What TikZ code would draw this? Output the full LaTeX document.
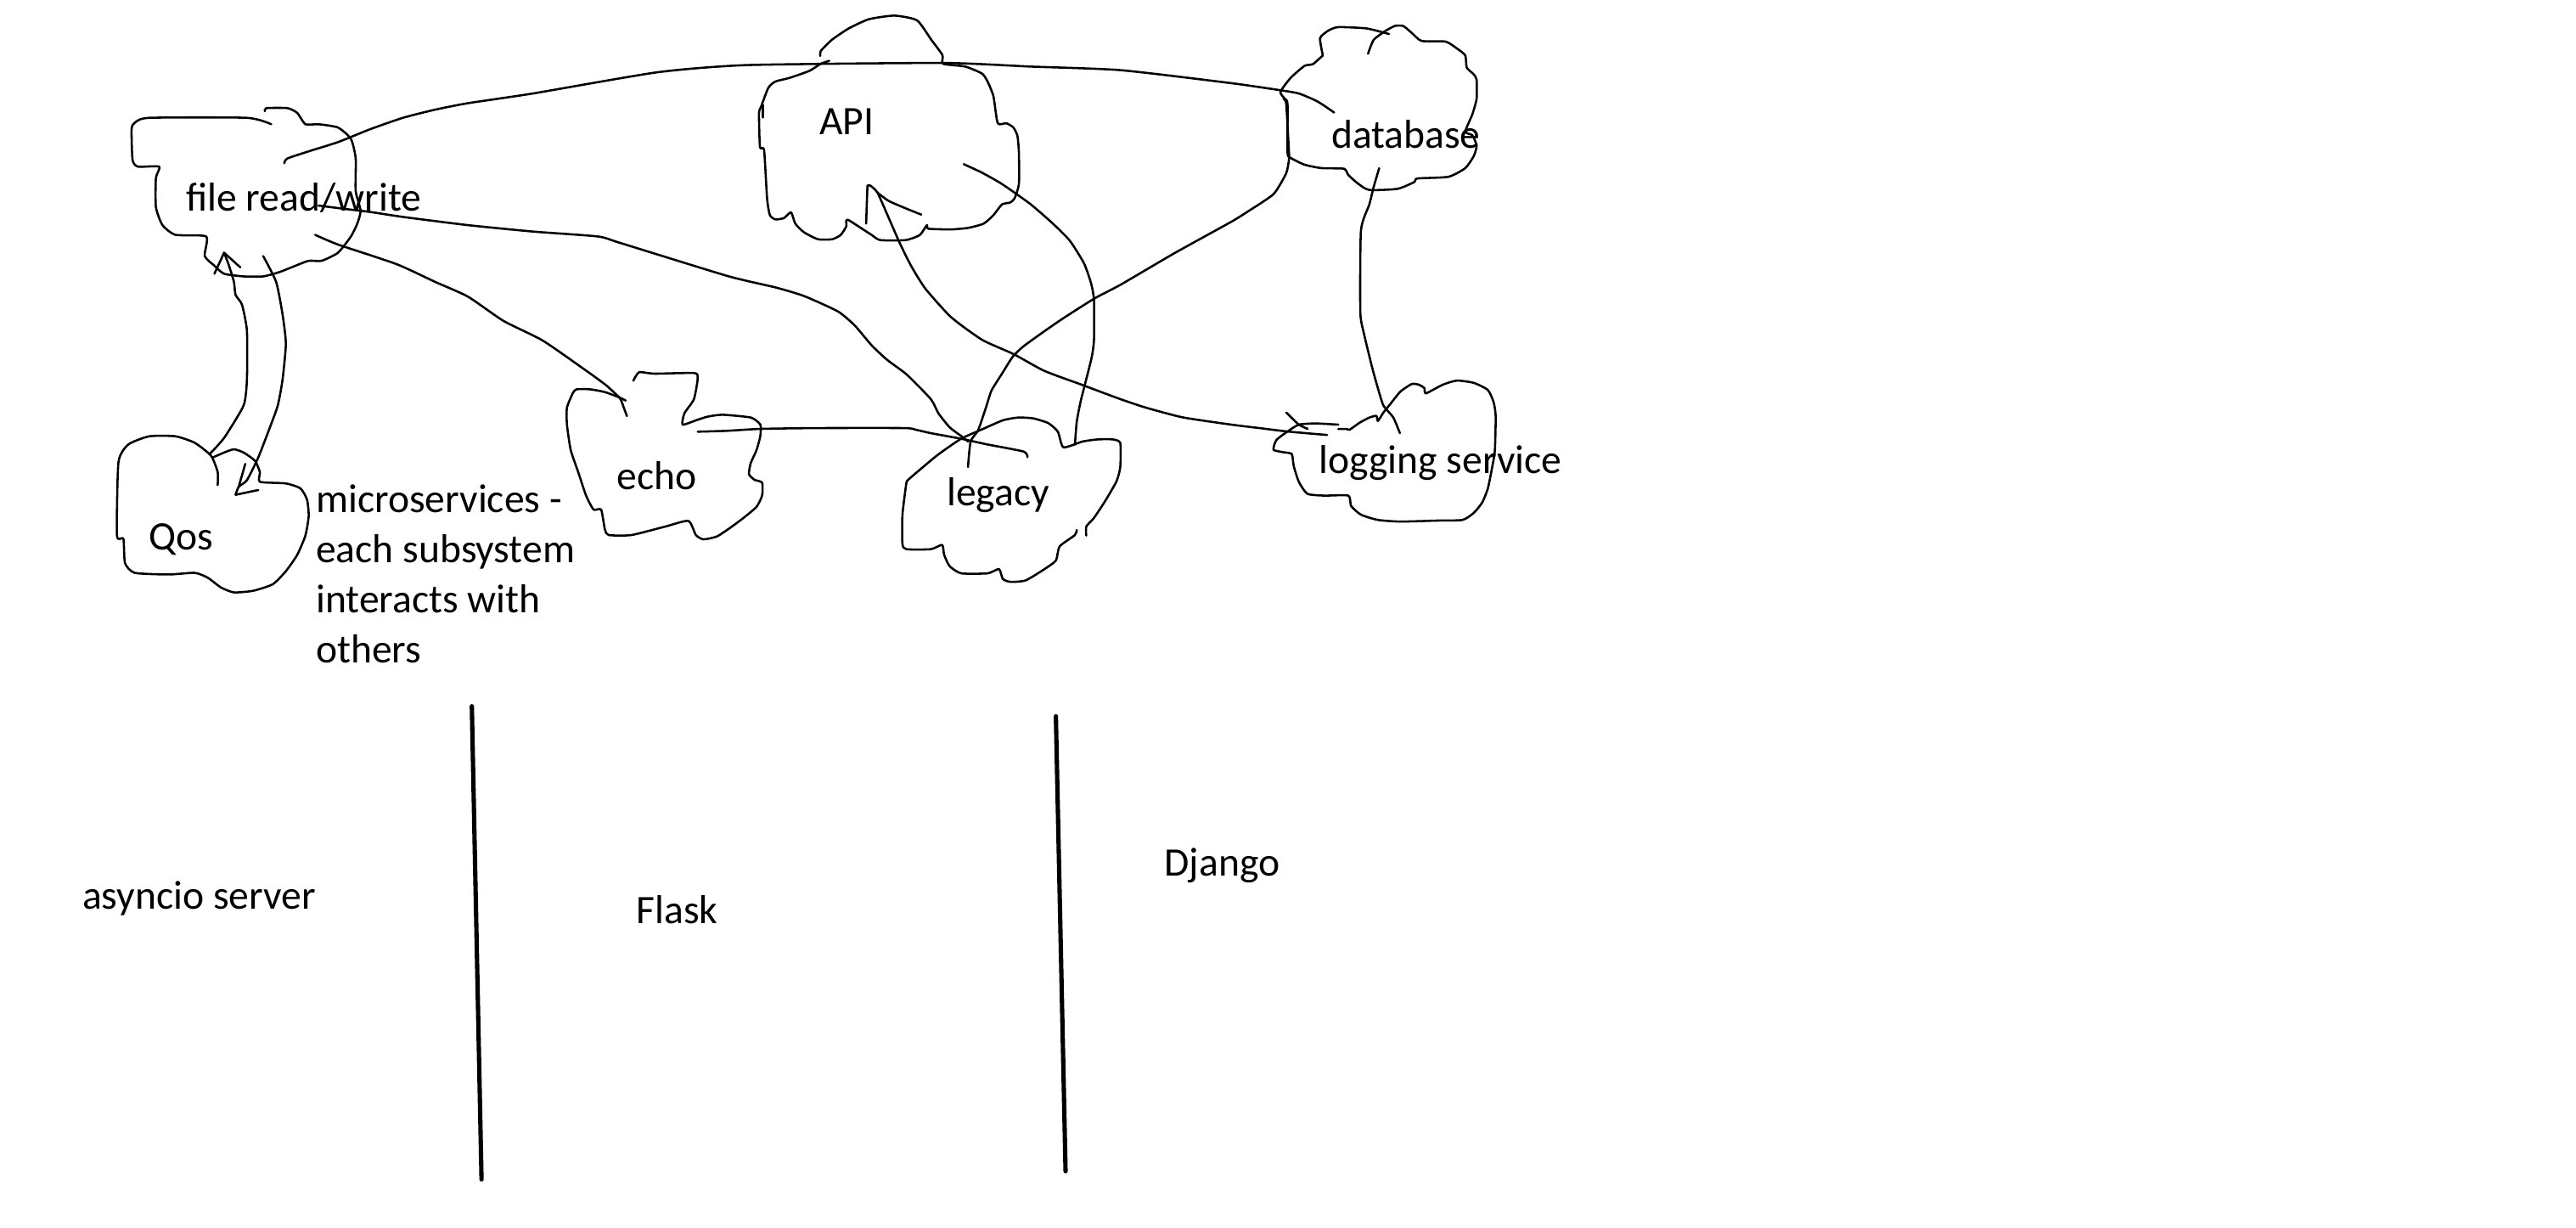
\documentclass[tikz,border=0pt]{standalone}
\usepackage{fontspec}
\setmainfont{Carlito}
\newcommand\lblfont{\fontsize{14}{17}\selectfont}
\begin{document}
\begin{tikzpicture}[x=0.2mm,y=-0.2mm,
  sketch/.style={line width=0.75pt,line cap=round,line join=round},
  divider/.style={line width=1.5pt,line cap=round},
  lbl/.style={anchor=base west,inner sep=0pt,font=\lblfont},
  sm/.style={smooth,tension=0.35}]
\useasboundingbox (0,0) rectangle (1568,747);
\fill[white] (0,0) rectangle (1568,747);

% ---------- labels ----------
\node[lbl] (file) at (113,128.5) {file read/write};
\node[lbl] (api) at (498.5,81.8) {API};
\node[lbl] (db) at (810,90.3) {database};
\node[lbl] (qos) at (90.5,334.8) {Qos};
\node[lbl] (echo) at (375,298) {echo};
\node[lbl] (legacy) at (576,307.5) {legacy};
\node[lbl] (logging) at (802.5,287.9) {logging service};
\node[lbl] (note1) at (192,312) {microservices -};
\node[lbl] (note2) at (192,342.5) {each subsystem};
\node[lbl] (note3) at (192,373) {interacts with};
\node[lbl] (note4) at (192,403.5) {others};
\node[lbl] (asyncio) at (49.8,553.4) {asyncio server};
\node[lbl] (flask) at (387,562.1) {Flask};
\node[lbl] (django) at (708.5,532.9) {Django};

% ---------- clouds ----------
% file read/write
\draw[sketch] plot[sm] coordinates {(165.1,75.6)(150.3,71.7)(90.9,71.7)(82.0,74.7)(80.1,78.6)(80.7,97.4)(84.0,101.4)(96.9,101.4)(94.9,108.3)(94.9,126.1)(98.9,137.0)(106.8,142.9)(125.5,143.9)(124.6,155.8)(130.5,161.7)(136.4,166.6)(148.3,168.2)(160.2,168.2)(170.0,165.6)(179.9,161.7)(187.9,158.7)(195.8,158.7)(205.7,153.8)(213.6,143.9)(217.5,136.0)(219.5,128.1)(216.5,116.2)(216.5,96.4)(213.6,84.5)(205.7,77.6)(193.8,75.6)(185.9,75.6)(180.9,68.7)(175.0,65.8)(162.1,65.8)(161.2,67.7)};
% Qos
\draw[sketch] plot[sm] coordinates {(132.5,295.2)(132.5,287.3)(128.5,277.4)(118.6,269.5)(106.8,265.5)(90.9,265.5)(78.1,270.5)(72.1,281.3)(71.2,325.9)(75.1,327.8)(76.1,342.7)(82.0,348.6)(102.8,349.6)(118.6,348.6)(126.5,351.6)(134.5,357.5)(142.4,360.5)(154.2,359.5)(166.1,355.5)(174.0,347.6)(180.9,337.7)(185.9,325.9)(187.9,314.0)(186.9,304.1)(182.9,297.2)(174.0,294.2)(158.2,293.2)(158.2,287.3)(155.2,280.4)(148.3,275.4)(142.4,273.4)(136.4,275.4)(129.5,278.4)};
% API
\draw[sketch] plot[sm] coordinates {(499.3,34.1)(499.6,31)(506.5,24.1)(516.8,17.2)(528.9,11.7)(544.4,9.5)(558.2,12.4)(566.8,24.1)(573.7,33.6)(574.0,38.8)(587.5,40.5)(597.8,44.8)(601.3,50)(604.7,58.6)(607.3,75)(612.5,75)(616.8,77.5)(619.3,82.7)(620.2,93)(620.2,112)(617.6,120.6)(615,123.2)(609.9,124.4)(604.7,130.9)(598.7,136.1)(589.2,138.7)(578.9,139.6)(565.1,139.2)(564.2,137)(559.9,143)(551.3,146.1)(535.8,146.1)(530.6,143)(516.8,134.1)(515.1,134.4)(515.1,137.8)(511.7,143)(506.5,145.6)(497.9,145.6)(489.3,141.3)(484.1,136.1)(481.5,129.2)(477.2,132.7)(472,133.5)(468.6,130.9)(466.9,120.6)(465.1,91.3)(462.6,89.6)(462,68.9)(463.4,64.6)(467.7,53.4)(472,49.6)(480.6,47.4)(492.7,43.1)(499.6,38.8)(504.8,37)};
\draw[sketch] (464.3,63.8) -- (464.3,71.5);
% database
\draw[sketch] plot[sm] coordinates {(805.2,33.7)(803.5,23.2)(808.6,18.6)(814.6,16.5)(831.8,17.3)(845.5,20.7)};
\draw[sketch] plot[sm] coordinates {(832.7,32.7)(836.1,24.3)(843,19)(849,15.8)(854.1,15.8)(859.3,20)(865.3,24.9)(879.9,25.3)(886.8,29.5)(891.9,33.7)(892.8,41.1)(897.1,45.3)(898.8,48.5)(898.8,60.1)(896.2,69.6)(891.9,80.1)(896.2,82.3)(898.8,88.6)(897.1,94.9)(891.9,102.3)(881.6,107.6)(862.7,108.6)(861,110.7)(850.7,114.9)(833.5,115.6)(826.7,111.8)(820.7,106.5)(818.1,102.7)(804.3,102.3)(794,100.2)(785.5,96)(783.7,92.8)(783.7,63.3)(782,60.1)(779.4,55.9)(785.5,47.5)(794,40.1)(799.2,39)(805.2,33.7)};
% echo
\draw[sketch] plot[sm] coordinates {(385.5,231.7)(389,226.5)(398.2,227.4)(422.4,227)(424.7,230)(422.4,242.9)(416.6,251.5)(415.5,258.4)(423.6,255.8)(430.5,253.6)(439.7,252.4)(457,254.1)(462.8,258.4)(462.8,265.3)(460.5,273.9)(457,281.7)(455.9,288.6)(459.3,292)(463.9,293.7)(463.9,301.5)(460.5,308.4)(452.4,315.3)(444.3,321.3)(436.3,326.5)(428.2,328.2)(423.6,325.6)(419,317)(405.1,320.4)(384.3,325.6)(370.5,325.6)(368.2,322.2)(365.9,310.1)(361.3,310.1)(356.7,301.5)(352.1,287.7)(347.4,273.9)(345.1,258.4)(345.1,248.1)(348.6,239.4)(350.9,236.9)(359,236.9)(368.2,238.6)(377.4,242)(380.9,243.8)};
% legacy
\draw[sketch] plot[sm] coordinates {(655.4,322.5)(654.3,325.6)(645,332.5)(642.7,341.1)(635.8,346.3)(624.3,353.2)(615,354.1)(610.4,352.3)(608.1,346.3)(601.2,348.9)(585.1,348.9)(578.1,344.6)(574.7,337.7)(573.5,331.6)(566.6,334.2)(551.6,334.2)(549.3,330.8)(549.3,313.5)(551.6,294.6)(552.8,292)(560.8,285.1)(571.2,276.5)(585,267)(596.6,261.8)(610.4,255.8)(619.7,254.1)(628.9,254.6)(638.1,257.5)(643.9,262.7)(647.3,272.2)(658.9,268.7)(668.1,267.4)(677.3,267.4)(681.9,269.6)(681.9,284.2)(679.6,292.9)(672.7,304.9)(665.8,315.3)(661.2,320.4)(661.2,325.9)};
% logging service
\draw[sketch] plot[sm] coordinates {(814.6,258.4)(800.9,257.7)(790.6,258.4)(783.7,262.6)(776.9,267.8)(775.2,273.7)(781.2,275.2)(786.3,276.3)(787.5,283.7)(790.6,293.2)(795.8,300.5)(806.1,301.6)(820.7,301.6)(822.4,307.9)(828.4,313.2)(838.7,316.4)(852.4,317.4)(874.7,316.8)(890.2,316.4)(897.1,312.1)(902.2,305.8)(905.6,297.4)(908.2,284.7)(909.9,274.2)(910.4,253.1)(909.1,244.6)(905.6,237.3)(897.1,233)(886.8,231.6)(878.2,234.1)(867.9,239.4)(867,236.2)(863.6,234.1)(859.3,233.7)(852.4,238.3)(846.4,245.7)(842.1,251)(838.7,256.2)(837.8,253.1)(833.5,254.1)(827.5,257.3)(821.5,261.5)(819.8,261.1)(814.6,261.1)};

% ---------- connector end points ----------
\coordinate (fileDbS) at (173,99.4);
\coordinate (fileDbE) at (812.1,68.5);
\coordinate (fileLegS) at (193.8,125.1);
\coordinate (fileLegE) at (589.3,268.7);
\coordinate (fileEchoS) at (191.8,142.9);
\coordinate (fileEchoE) at (381.6,253.2);
\coordinate (qosA) at (127.5,276.4);
\coordinate (fileQosA) at (136.4,153.8);
\coordinate (fileQosB) at (160.2,155.8);
\coordinate (qosB) at (143.4,301.1);
\coordinate (apiLogS) at (527.2,136.1);
\coordinate (apiLogE) at (807.8,264.7);
\coordinate (apiLegS) at (586.6,99.9);
\coordinate (apiLegE) at (654.3,270.5);
\coordinate (dbLegS) at (781.2,60.1);
\coordinate (dbLegE) at (589.2,284.2);
\coordinate (dbLogS) at (839.5,102.3);
\coordinate (dbLogE) at (852.1,263.6);
\coordinate (echoLegS) at (424.7,262.7);
\coordinate (echoLegE) at (625.4,278.2);

% ---------- connectors ----------
% file -> database (long arc)
\draw[sketch] plot[sm] coordinates {(fileDbS)(175,96.4)(189.8,91.5)(205.7,86.5)(225.4,78.6)(245.2,71.7)(265,66.7)(284.8,62.8)(324.3,56.9)(400,44)(454.8,39.6)(573.7,38.3)(627.1,40.5)(682.2,42.7)(749.4,50.6)(778.6,54.8)(790.6,56.9)(800.9,61.2)(806,64.3)(fileDbE)};
% file -> legacy
\draw[sketch] plot[sm] coordinates {(fileLegS)(209.6,127.1)(225.4,129)(245.2,132)(284.8,137)(324.3,140.9)(363.9,143.9)(377.4,147.8)(443,168)(472,174.9)(489.3,180.1)(510,189.5)(520.3,198.1)(530.6,210.2)(540,219)(552,228)(566.6,242.9)(571.2,251.5)(578.1,260.1)(585,265.3)(fileLegE)};
% file -> echo
\draw[sketch] plot[sm] coordinates {(fileEchoS)(205.7,148.8)(241.3,160.7)(265,171.6)(284.8,180.5)(306.5,195.3)(330.3,207.2)(356,225)(369,234.5)(377.4,242.5)(379.7,248.1)(fileEchoE)};
% file <-> Qos (double stroke)
\draw[sketch] plot[sm] coordinates {(fileQosA)(139.4,161.7)(142.4,171.6)(143.4,179.5)(147.3,185.4)(150.3,201.2)(150.3,230.9)(148.3,246.7)(136.4,266.5)(qosA)};
\draw[sketch] (130.5,166.6) -- (fileQosA) -- (146.3,162.7);
\draw[sketch] plot[sm] coordinates {(fileQosB)(168.1,171.6)(172.0,191.4)(174.0,209.2)(172.0,230.9)(169.1,246.7)(164.1,260.6)(157.2,278.4)(150.3,292.2)(145.3,296.2)(qosB)};
\draw[sketch] (qosB) -- (157.2,298.2);
\draw[sketch] (149.3,282.3) -- (145.3,296.2);
% API -> logging service
\draw[sketch] (apiLogS) -- (528,112.9) -- (529.7,112.9);
\draw[sketch] plot[sm] coordinates {(529.7,112.9)(534.1,117.2)(541,132.7)(547.8,148.2)(554.7,162)(563.3,175.7)(578.9,193)(597.8,206.8)(616.8,215.4)(635.7,225.7)(658.9,234.3)(682,242.9)(697.6,248.1)(720,254)(749.4,258.4)(766.6,260.5)(783.7,262.6)(apiLogE)};
\draw[sketch] plot[sm] coordinates {(534.1,117.2)(541,122.3)(553,127.5)(560.8,130.6)};
\draw[sketch] plot[sm] coordinates {(782.9,251)(790.6,258.4)(796,261)};
% API -> legacy
\draw[sketch] plot[sm] coordinates {(apiLegS)(597.8,105.1)(609.9,112)(627.1,124.1)(640.9,136.1)(651.2,146.5)(659.8,160.2)(664.1,172.3)(665.9,182.6)(665.9,206.8)(664.6,217)(661.2,230.8)(657.7,244.6)(655.4,256.7)(apiLegE)};
% database -> legacy
\draw[sketch] plot[sm] coordinates {(dbLegS)(782.9,63.3)(784.6,92.8)(784.6,97)(782.9,105.4)(775.2,118.1)(759.7,128.6)(749.4,135)(715,154)(682.2,173.2)(665.9,181.8)(644.3,195.6)(623.7,210.2)(616.5,217)(609.9,227.4)(603.5,237.7)(600.1,248.1)(595.4,261.8)(590.8,268.7)(dbLegE)};
% database -> logging service
\draw[sketch] plot[sm] coordinates {(dbLogS)(836.1,113.9)(833.5,124.4)(828.4,140.2)(828,189.8)(830.1,202.5)(835.2,223.6)(838.7,236.2)(842.1,246.8)(848.1,254.1)(dbLogE)};
% echo -> legacy
\draw[sketch] plot[sm] coordinates {(echoLegS)(442,262.2)(462.8,261)(497.4,260.5)(550.4,260.5)(557.4,261.5)(566.6,263.6)(585,267)(601.2,270.5)(623.1,274.8)(echoLegE)};

% ---------- dividers ----------
\coordinate (d1t) at (287.2,429.8);
\coordinate (d1b) at (293.1,717.8);
\coordinate (d2t) at (642.7,435.9);
\coordinate (d2b) at (648.6,712.7);
\draw[divider] (d1t) -- (d1b);
\draw[divider] (d2t) -- (d2b);
\end{tikzpicture}
\end{document}
